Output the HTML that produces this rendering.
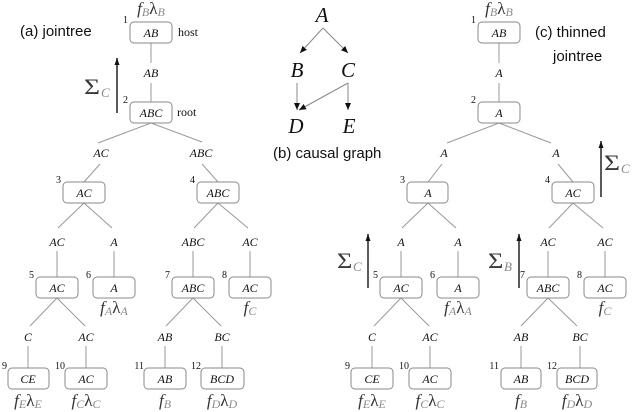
<!DOCTYPE html>
<html><head><meta charset="utf-8"><style>
html,body{margin:0;padding:0;background:#fff;}
svg{display:block;}
.n{font-family:"Liberation Serif",serif;font-style:italic;font-size:12px;fill:#111;text-anchor:middle;}
.e{font-family:"Liberation Serif",serif;font-style:italic;font-size:12px;fill:#111;text-anchor:middle;}
.num{font-family:"Liberation Serif",serif;font-size:10px;fill:#111;text-anchor:end;}
.f{font-family:"Liberation Serif",serif;font-style:italic;font-size:17px;fill:#333;text-anchor:middle;}
.sub{font-size:12px;fill:#8a8a8a;}
.cap{font-family:"Liberation Sans",sans-serif;font-size:15px;fill:#111;}
.big{font-family:"Liberation Serif",serif;font-style:italic;font-size:21px;fill:#111;text-anchor:middle;}
.sig{font-family:"Liberation Serif",serif;font-size:22px;fill:#3a3a3a;}
.sigs{font-family:"Liberation Serif",serif;font-style:italic;font-size:13px;fill:#888;}
.rm{font-family:"Liberation Serif",serif;font-size:12px;fill:#111;}
rect.b{fill:#fff;stroke:#8a8a8a;stroke-width:1;}
line{stroke:#999;stroke-width:1;}
line.ar{stroke:#222;stroke-width:1.5;}
line.cg{stroke:#888;stroke-width:1;}
</style></head><body>
<svg width="634" height="412" viewBox="0 0 634 412" xmlns="http://www.w3.org/2000/svg">
<defs>
<marker id="ah" markerWidth="8" markerHeight="8" refX="7" refY="4" orient="auto" markerUnits="userSpaceOnUse">
<path d="M0,1 L7,4 L0,7 z" fill="#111"/>
</marker>
<marker id="ah2" markerWidth="8" markerHeight="8" refX="7" refY="3.5" orient="auto" markerUnits="userSpaceOnUse">
<path d="M0,1 L7,3.5 L0,6 z" fill="#111"/>
</marker>
</defs>

<!-- captions -->
<text class="cap" x="20" y="36">(a) jointree</text>
<text class="cap" x="273" y="158">(b) causal graph</text>
<text class="cap" x="535" y="37">(c) thinned</text>
<text class="cap" x="553" y="61">jointree</text>

<!-- ============ LEFT TREE ============ -->
<g>
<line x1="151" y1="43" x2="151" y2="63"/><line x1="151" y1="83" x2="151" y2="102"/>
<line x1="151" y1="123" x2="98" y2="143"/><line x1="151" y1="123" x2="202" y2="142"/>
<line x1="100" y1="164" x2="84" y2="182"/><line x1="202" y1="164" x2="218" y2="182"/>
<line x1="84" y1="203" x2="58" y2="228"/><line x1="84" y1="203" x2="112" y2="228"/>
<line x1="218" y1="203" x2="194" y2="228"/><line x1="218" y1="203" x2="248" y2="228"/>
<line x1="57" y1="251" x2="57" y2="277"/><line x1="114" y1="251" x2="114" y2="277"/>
<line x1="193" y1="251" x2="193" y2="277"/><line x1="250" y1="251" x2="250" y2="277"/>
<line x1="57" y1="298" x2="30" y2="326"/><line x1="57" y1="298" x2="85" y2="326"/>
<line x1="193" y1="298" x2="166" y2="326"/><line x1="193" y1="298" x2="221" y2="326"/>
<line x1="28" y1="346" x2="28" y2="368"/><line x1="86" y1="346" x2="86" y2="368"/>
<line x1="165" y1="346" x2="165" y2="368"/><line x1="222" y1="346" x2="222" y2="368"/>

<rect class="b" x="130" y="22" width="42" height="21" rx="4"/><text class="n" x="151" y="37">AB</text><text class="num" x="128" y="23">1</text>
<rect class="b" x="130" y="102" width="42" height="21" rx="4"/><text class="n" x="151" y="117">ABC</text><text class="num" x="128" y="103">2</text>
<rect class="b" x="63" y="182" width="42" height="21" rx="4"/><text class="n" x="84" y="197">AC</text><text class="num" x="61" y="183">3</text>
<rect class="b" x="197" y="182" width="42" height="21" rx="4"/><text class="n" x="218" y="197">ABC</text><text class="num" x="195" y="183">4</text>
<rect class="b" x="36" y="277" width="42" height="21" rx="4"/><text class="n" x="57" y="292">AC</text><text class="num" x="34" y="278">5</text>
<rect class="b" x="93" y="277" width="42" height="21" rx="4"/><text class="n" x="114" y="292">A</text><text class="num" x="91" y="278">6</text>
<rect class="b" x="172" y="277" width="42" height="21" rx="4"/><text class="n" x="193" y="292">ABC</text><text class="num" x="170" y="278">7</text>
<rect class="b" x="229" y="277" width="42" height="21" rx="4"/><text class="n" x="250" y="292">AC</text><text class="num" x="227" y="278">8</text>
<rect class="b" x="8" y="368" width="41" height="21" rx="4"/><text class="n" x="28" y="383">CE</text><text class="num" x="7" y="369">9</text>
<rect class="b" x="65" y="368" width="42" height="21" rx="4"/><text class="n" x="86" y="383">AC</text><text class="num" x="65" y="369">10</text>
<rect class="b" x="144" y="368" width="42" height="21" rx="4"/><text class="n" x="165" y="383">AB</text><text class="num" x="144" y="369">11</text>
<rect class="b" x="201" y="368" width="43" height="21" rx="4"/><text class="n" x="222" y="383">BCD</text><text class="num" x="201" y="369">12</text>

<text class="e" x="151" y="77">AB</text>
<text class="e" x="101" y="157">AC</text><text class="e" x="201" y="157">ABC</text>
<text class="e" x="57" y="246">AC</text><text class="e" x="114" y="246">A</text>
<text class="e" x="193" y="246">ABC</text><text class="e" x="250" y="246">AC</text>
<text class="e" x="28" y="341">C</text><text class="e" x="86" y="341">AC</text>
<text class="e" x="165" y="341">AB</text><text class="e" x="222" y="341">BC</text>

<text class="rm" x="178" y="36">host</text>
<text class="rm" x="177" y="116">root</text>

<text class="f" x="151" y="14">f<tspan class="sub" dy="2">B</tspan><tspan dy="-2" font-style="normal">λ</tspan><tspan class="sub" dy="2">B</tspan></text>
<text class="f" x="114" y="313">f<tspan class="sub" dy="2">A</tspan><tspan dy="-2" font-style="normal">λ</tspan><tspan class="sub" dy="2">A</tspan></text>
<text class="f" x="250" y="313">f<tspan class="sub" dy="2">C</tspan></text>
<text class="f" x="28" y="406">f<tspan class="sub" dy="2">E</tspan><tspan dy="-2" font-style="normal">λ</tspan><tspan class="sub" dy="2">E</tspan></text>
<text class="f" x="86" y="406">f<tspan class="sub" dy="2">C</tspan><tspan dy="-2" font-style="normal">λ</tspan><tspan class="sub" dy="2">C</tspan></text>
<text class="f" x="165" y="406">f<tspan class="sub" dy="2">B</tspan></text>
<text class="f" x="222" y="406">f<tspan class="sub" dy="2">D</tspan><tspan dy="-2" font-style="normal">λ</tspan><tspan class="sub" dy="2">D</tspan></text>

<line class="ar" x1="117" y1="113" x2="117" y2="58" marker-end="url(#ah2)"/>
<g transform="translate(84,94) scale(1.25,1)"><text class="sig" x="0" y="0">Σ</text></g>
<text class="sigs" x="101" y="97">C</text>
</g>

<!-- ============ CAUSAL GRAPH ============ -->
<g>
<text class="big" x="322" y="22">A</text>
<text class="big" x="297" y="77">B</text>
<text class="big" x="348" y="77">C</text>
<text class="big" x="296" y="133">D</text>
<text class="big" x="349" y="133">E</text>
<line class="cg" x1="323" y1="28" x2="300" y2="53" marker-end="url(#ah)"/>
<line class="cg" x1="323" y1="28" x2="348" y2="53" marker-end="url(#ah)"/>
<line class="cg" x1="297" y1="83" x2="297" y2="110" marker-end="url(#ah)"/>
<line class="cg" x1="348" y1="83" x2="299" y2="110" marker-end="url(#ah)"/>
<line class="cg" x1="348" y1="83" x2="348" y2="110" marker-end="url(#ah)"/>
</g>

<!-- ============ RIGHT TREE ============ -->
<g>
<line x1="499" y1="43" x2="499" y2="63"/><line x1="499" y1="83" x2="499" y2="102"/>
<line x1="499" y1="123" x2="447" y2="143"/><line x1="499" y1="123" x2="551" y2="143"/>
<line x1="442" y1="164" x2="428" y2="182"/><line x1="558" y1="164" x2="573" y2="182"/>
<line x1="428" y1="203" x2="402" y2="228"/><line x1="428" y1="203" x2="456" y2="228"/>
<line x1="573" y1="203" x2="549" y2="228"/><line x1="573" y1="203" x2="603" y2="228"/>
<line x1="401" y1="251" x2="401" y2="277"/><line x1="458" y1="251" x2="458" y2="277"/>
<line x1="548" y1="251" x2="548" y2="277"/><line x1="605" y1="251" x2="605" y2="277"/>
<line x1="401" y1="298" x2="374" y2="326"/><line x1="401" y1="298" x2="429" y2="326"/>
<line x1="548" y1="298" x2="521" y2="326"/><line x1="548" y1="298" x2="577" y2="326"/>
<line x1="372" y1="346" x2="372" y2="368"/><line x1="430" y1="346" x2="430" y2="368"/>
<line x1="521" y1="346" x2="521" y2="368"/><line x1="580" y1="346" x2="580" y2="368"/>

<rect class="b" x="478" y="22" width="42" height="21" rx="4"/><text class="n" x="499" y="37">AB</text><text class="num" x="476" y="23">1</text>
<rect class="b" x="478" y="102" width="42" height="21" rx="4"/><text class="n" x="499" y="117">A</text><text class="num" x="476" y="103">2</text>
<rect class="b" x="407" y="182" width="41" height="21" rx="4"/><text class="n" x="428" y="197">A</text><text class="num" x="405" y="183">3</text>
<rect class="b" x="552" y="182" width="42" height="21" rx="4"/><text class="n" x="573" y="197">AC</text><text class="num" x="550" y="183">4</text>
<rect class="b" x="380" y="277" width="42" height="21" rx="4"/><text class="n" x="401" y="292">AC</text><text class="num" x="378" y="278">5</text>
<rect class="b" x="437" y="277" width="42" height="21" rx="4"/><text class="n" x="458" y="292">A</text><text class="num" x="435" y="278">6</text>
<rect class="b" x="527" y="277" width="42" height="21" rx="4"/><text class="n" x="548" y="292">ABC</text><text class="num" x="525" y="278">7</text>
<rect class="b" x="584" y="277" width="42" height="21" rx="4"/><text class="n" x="605" y="292">AC</text><text class="num" x="582" y="278">8</text>
<rect class="b" x="351" y="368" width="42" height="21" rx="4"/><text class="n" x="372" y="383">CE</text><text class="num" x="350" y="369">9</text>
<rect class="b" x="409" y="368" width="42" height="21" rx="4"/><text class="n" x="430" y="383">AC</text><text class="num" x="409" y="369">10</text>
<rect class="b" x="501" y="368" width="40" height="21" rx="4"/><text class="n" x="521" y="383">AB</text><text class="num" x="499" y="369">11</text>
<rect class="b" x="557" y="368" width="40" height="21" rx="4"/><text class="n" x="577" y="383">BCD</text><text class="num" x="557" y="369">12</text>

<text class="e" x="499" y="77">A</text>
<text class="e" x="444" y="157">A</text><text class="e" x="556" y="157">A</text>
<text class="e" x="401" y="246">A</text><text class="e" x="458" y="246">A</text>
<text class="e" x="548" y="246">AC</text><text class="e" x="605" y="246">AC</text>
<text class="e" x="372" y="341">C</text><text class="e" x="430" y="341">AC</text>
<text class="e" x="521" y="341">AB</text><text class="e" x="580" y="341">BC</text>

<text class="f" x="499" y="14">f<tspan class="sub" dy="2">B</tspan><tspan dy="-2" font-style="normal">λ</tspan><tspan class="sub" dy="2">B</tspan></text>
<text class="f" x="458" y="313">f<tspan class="sub" dy="2">A</tspan><tspan dy="-2" font-style="normal">λ</tspan><tspan class="sub" dy="2">A</tspan></text>
<text class="f" x="605" y="313">f<tspan class="sub" dy="2">C</tspan></text>
<text class="f" x="372" y="406">f<tspan class="sub" dy="2">E</tspan><tspan dy="-2" font-style="normal">λ</tspan><tspan class="sub" dy="2">E</tspan></text>
<text class="f" x="430" y="406">f<tspan class="sub" dy="2">C</tspan><tspan dy="-2" font-style="normal">λ</tspan><tspan class="sub" dy="2">C</tspan></text>
<text class="f" x="521" y="406">f<tspan class="sub" dy="2">B</tspan></text>
<text class="f" x="577" y="406">f<tspan class="sub" dy="2">D</tspan><tspan dy="-2" font-style="normal">λ</tspan><tspan class="sub" dy="2">D</tspan></text>

<line class="ar" x1="601" y1="197" x2="601" y2="141" marker-end="url(#ah2)"/>
<g transform="translate(604,170) scale(1.25,1)"><text class="sig" x="0" y="0">Σ</text></g>
<text class="sigs" x="621" y="173">C</text>

<line class="ar" x1="368" y1="288" x2="368" y2="234" marker-end="url(#ah2)"/>
<g transform="translate(337,268) scale(1.2,1)"><text class="sig" x="0" y="0">Σ</text></g>
<text class="sigs" x="353" y="271">C</text>

<line class="ar" x1="519" y1="288" x2="519" y2="234" marker-end="url(#ah2)"/>
<g transform="translate(488,268) scale(1.2,1)"><text class="sig" x="0" y="0">Σ</text></g>
<text class="sigs" x="504" y="271">B</text>
</g>
</svg>
</body></html>
